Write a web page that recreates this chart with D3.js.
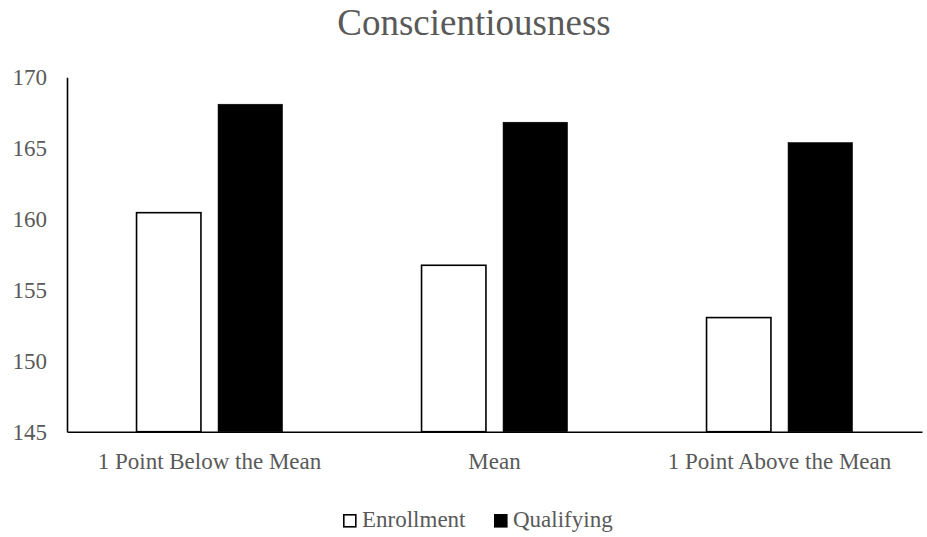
<!DOCTYPE html>
<html>
<head>
<meta charset="utf-8">
<script src="https://cdn.jsdelivr.net/npm/d3@7/dist/d3.min.js"></script>
<style>
  html, body { margin: 0; padding: 0; background: #fff; }
  svg { display: block; }
  text { font-family: "Liberation Serif", "Times New Roman", serif; fill: #595959; }
</style>
</head>
<body>
<svg id="chart" width="927" height="537"></svg>
<script>
// Chart data
const categories = ["1 Point Below the Mean", "Mean", "1 Point Above the Mean"];
const seriesNames = ["Enrollment", "Qualifying"];
const enrollment = [160.45, 156.74, 153.05];
const qualifying = [168.10, 166.83, 165.39];
const yTicks = [145, 150, 155, 160, 165, 170];
const titleText = "Conscientiousness";

const seriesValues = [enrollment, qualifying];
const fills = ["#ffffff", "#000000"];

const svg = d3.select("#chart");
const W = 927, H = 537;
const plot = { left: 67, right: 922, top: 77.3, bottom: 431.7 };

const x0 = d3.scaleBand()
  .domain(categories)
  .range([plot.left, plot.right])
  .paddingInner(0.488)
  .paddingOuter(0.244);

const x1 = d3.scaleBand()
  .domain(seriesNames)
  .range([0, x0.bandwidth()])
  .paddingInner(0.21);

const y = d3.scaleLinear()
  .domain([145, 170])
  .range([plot.bottom, plot.top]);

// Title
svg.append("text")
  .attr("x", 474)
  .attr("y", 35)
  .attr("text-anchor", "middle")
  .style("font-size", "37px")
  .text(titleText);

// Bars
const groups = svg.append("g").selectAll("g")
  .data(categories)
  .join("g")
  .attr("transform", d => `translate(${x0(d)},0)`);

groups.selectAll("rect")
  .data((d, i) => seriesNames.map((s, j) => ({ s, j, v: seriesValues[j][i] })))
  .join("rect")
  .attr("x", d => x1(d.s))
  .attr("width", x1.bandwidth())
  .attr("y", d => y(d.v))
  .attr("height", d => y(145) - y(d.v))
  .attr("fill", d => fills[d.j])
  .attr("stroke", "#000")
  .attr("stroke-width", d => d.j === 0 ? 1.6 : 0.6);

// Y axis
const yAxis = d3.axisLeft(y).tickValues(yTicks).tickSize(0).tickPadding(20);
const gy = svg.append("g").attr("transform", `translate(${plot.left},0)`).call(yAxis);
gy.select(".domain").attr("stroke", "#000").attr("stroke-width", 1.6);
gy.selectAll("text")
  .style("font-size", "23px")
  .style("font-family", "'Liberation Serif', 'Times New Roman', serif")
  .attr("fill", "#595959");

// X axis
const xAxis = d3.axisBottom(x0).tickSize(0).tickPadding(21);
const gx = svg.append("g").attr("transform", `translate(0,${plot.bottom})`).call(xAxis);
gx.select(".domain").attr("stroke", "#000").attr("stroke-width", 1.6);
gx.selectAll("text")
  .style("font-size", "23px")
  .style("font-family", "'Liberation Serif', 'Times New Roman', serif")
  .attr("fill", "#595959");

// Legend
const legendItems = [
  { name: seriesNames[0], fill: fills[0], x: 343 },
  { name: seriesNames[1], fill: fills[1], x: 494 }
];
const lg = svg.append("g").selectAll("g")
  .data(legendItems)
  .join("g")
  .attr("transform", d => `translate(${d.x},514)`);
lg.append("rect")
  .attr("x", 0.8).attr("y", 0.8)
  .attr("width", 12).attr("height", 12)
  .attr("fill", d => d.fill)
  .attr("stroke", "#000")
  .attr("stroke-width", 1.6);
lg.append("text")
  .attr("x", 19)
  .attr("y", 13)
  .style("font-size", "23px")
  .text(d => d.name);
</script>
</body>
</html>
